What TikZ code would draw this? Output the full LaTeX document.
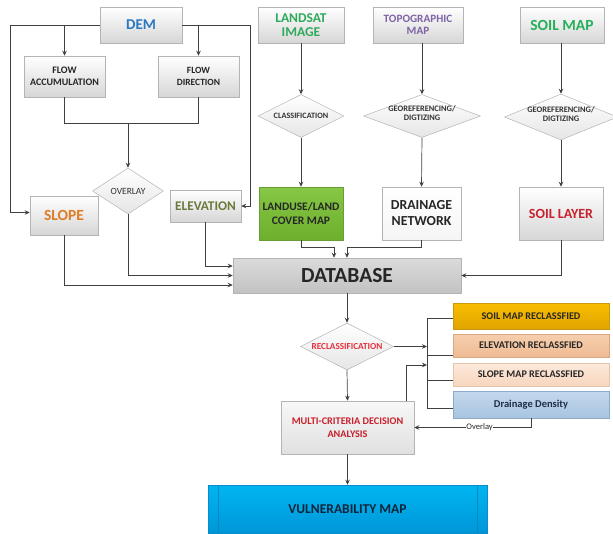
\documentclass[tikz,border=0pt]{standalone}
\usepackage{fontspec}
\setmainfont{Carlito}
\usetikzlibrary{shapes.geometric,arrows.meta,shadows}
\definecolor{linec}{HTML}{404040}
\definecolor{boxb}{HTML}{B4B4B4}
\definecolor{demc}{HTML}{2A78C2}
\definecolor{landc}{HTML}{2EAA5C}
\definecolor{topoc}{HTML}{7E63A6}
\definecolor{soilc}{HTML}{26B05A}
\definecolor{slopec}{HTML}{E07C24}
\definecolor{elevc}{HTML}{6A7A3C}
\definecolor{redc}{HTML}{C8202C}
\definecolor{reclc}{HTML}{E8303C}
\definecolor{navyc}{HTML}{10243A}
\definecolor{lutop}{HTML}{86C745}
\definecolor{lubot}{HTML}{6DB02E}
\definecolor{lubd}{HTML}{6A9E35}
\definecolor{smtop}{HTML}{F9BE00}
\definecolor{smbot}{HTML}{E0A400}
\definecolor{smbd}{HTML}{C89A10}
\definecolor{ertop}{HTML}{F6CFAE}
\definecolor{erbot}{HTML}{EEBB93}
\definecolor{erbd}{HTML}{D8A882}
\definecolor{srtop}{HTML}{FDE9DA}
\definecolor{srbot}{HTML}{F7D6BE}
\definecolor{srbd}{HTML}{E3C4AC}
\definecolor{ddtop}{HTML}{C3D8EC}
\definecolor{ddbot}{HTML}{A8C4E0}
\definecolor{ddbd}{HTML}{8EAACB}
\definecolor{ddtx}{HTML}{1F2F45}
\definecolor{vutop}{HTML}{00B6F0}
\definecolor{vubot}{HTML}{0096D8}
\definecolor{vubd}{HTML}{0A8CC8}
\definecolor{vuln}{HTML}{0A86C0}
\tikzset{
  gbox/.style={rectangle, draw=boxb, line width=0.5pt, top color=white, bottom color=black!16,
     align=center, inner sep=1pt, font=\bfseries, text=black!85,
     drop shadow={opacity=0.2, shadow xshift=1.2pt, shadow yshift=-1.2pt}},
  dia/.style={diamond, draw=boxb, line width=0.5pt, top color=white, bottom color=black!10,
     inner sep=0pt},
  dtext/.style={align=center, inner sep=0pt, text=black!80},
  arr/.style={draw=linec, line width=0.7pt, -{Stealth[length=5pt,width=4.5pt]}},
  ln/.style={draw=linec, line width=0.7pt},
  rbox/.style={rectangle, draw=boxb, line width=0.5pt, minimum width=156pt, align=center,
     font=\bfseries\fontsize{10.2}{12}\selectfont, text=black!85,
     drop shadow={opacity=0.2, shadow xshift=1.2pt, shadow yshift=-1.2pt}},
}
\begin{document}
\begin{tikzpicture}[x=1pt,y=1pt]
\useasboundingbox (0,0) rectangle (613,-533);
% top row
\node[gbox, minimum width=82pt, minimum height=36pt, text=demc, font=\bfseries\fontsize{15}{17}\selectfont] (dem) at (141,-25) {DEM};
\node[gbox, minimum width=86pt, minimum height=36pt, text=landc, font=\bfseries\fontsize{13.5}{14}\selectfont] (land) at (301,-25) {LANDSAT\\IMAGE};
\node[gbox, minimum width=90pt, minimum height=36pt, text=topoc, font=\bfseries\fontsize{11.2}{12.5}\selectfont] (topo) at (418,-25) {TOPOGRAPHIC\\MAP};
\node[gbox, minimum width=84pt, minimum height=36pt, text=soilc, font=\bfseries\fontsize{15.5}{17}\selectfont] (soil) at (562,-25) {SOIL MAP};
% flow boxes
\node[gbox, minimum width=81pt, minimum height=41pt, font=\bfseries\fontsize{10}{12.5}\selectfont] (facc) at (64.5,-76.5) {FLOW\\ACCUMULATION};
\node[gbox, minimum width=81pt, minimum height=41pt, font=\bfseries\fontsize{9.5}{12.5}\selectfont] (fdir) at (198.5,-76.5) {FLOW\\DIRECTION};
% diamonds
\node[dia, minimum width=71pt, minimum height=46pt] (ovl) at (128,-191) {};
\node[dtext, font=\fontsize{9.5}{10}\selectfont] (ovlt) at (ovl) {OVERLAY};
\node[dia, minimum width=86pt, minimum height=43pt] (cls) at (301,-116) {};
\node[dtext, font=\bfseries\fontsize{8.2}{9}\selectfont] (clst) at (cls) {CLASSIFICATION};
\node[dia, minimum width=117pt, minimum height=43pt] (geo1) at (422,-116) {};
\node[dtext, font=\bfseries\fontsize{8.4}{9.5}\selectfont] (geo1t) at ([yshift=3pt]geo1) {GEOREFERENCING/\\DIGTIZING};
\node[dia, minimum width=113pt, minimum height=46pt] (geo2) at (561,-117) {};
\node[dtext, font=\bfseries\fontsize{8.4}{9.5}\selectfont] (geo2t) at ([yshift=3pt]geo2) {GEOREFERENCING/\\DIGTIZING};
% second row
\node[gbox, minimum width=68pt, minimum height=39pt, text=slopec, font=\bfseries\fontsize{15.5}{17}\selectfont] (slope) at (64,-215.5) {SLOPE};
\node[gbox, minimum width=71pt, minimum height=32pt, text=elevc, font=\bfseries\fontsize{13.3}{15}\selectfont] (elev) at (205.5,-206) {ELEVATION};
\node[gbox, minimum width=84pt, minimum height=53pt, top color=lutop, bottom color=lubot, draw=lubd, font=\bfseries\fontsize{11.5}{14}\selectfont, text=black!85] (lu) at (301,-213.5) {LANDUSE/LAND\\COVER MAP};
\node[gbox, minimum width=79pt, minimum height=53pt, top color=white, bottom color=black!4, font=\bfseries\fontsize{13.8}{16}\selectfont, text=black!85] (dn) at (421.5,-213.5) {DRAINAGE\\NETWORK};
\node[gbox, minimum width=84pt, minimum height=53pt, text=redc, font=\bfseries\fontsize{14}{16}\selectfont] (sl) at (561,-213.5) {SOIL LAYER};
% database
\node[gbox, minimum width=228pt, minimum height=35pt, top color=black!14, bottom color=black!24, font=\bfseries\fontsize{21.5}{23}\selectfont, text=black!85] (db) at (347,-275.5) {DATABASE};
% reclassification
\node[dia, minimum width=93pt, minimum height=47pt] (rec) at (347,-346.5) {};
\node[dtext, font=\bfseries\fontsize{9.2}{10}\selectfont, text=reclc] (rect) at (rec) {RECLASSIFICATION};
% reclassified boxes
\node[rbox, minimum height=26pt, top color=smtop, bottom color=smbot, draw=smbd] (smr) at (531,-316) {SOIL MAP RECLASSFIED};
\node[rbox, minimum height=23pt, top color=ertop, bottom color=erbot, draw=erbd] (er) at (531,-345.5) {ELEVATION RECLASSFIED};
\node[rbox, minimum height=23pt, top color=srtop, bottom color=srbot, draw=srbd] (sr) at (531,-374.5) {SLOPE MAP RECLASSFIED};
\node[rbox, minimum height=27pt, top color=ddtop, bottom color=ddbot, draw=ddbd, font=\bfseries\fontsize{10.5}{12}\selectfont, text=ddtx] (dd) at (531,-404.5) {Drainage Density};
% MCDA
\node[gbox, minimum width=133pt, minimum height=53pt, top color=black!3, bottom color=black!12, text=redc, font=\bfseries\fontsize{10.2}{13.5}\selectfont] (mcda) at (347.5,-427.5) {MULTI-CRITERIA DECISION\\ANALYSIS};
% vulnerability
\node[rectangle, draw=vubd, line width=0.5pt, top color=vutop, bottom color=vubot, minimum width=279pt, minimum height=48pt, font=\bfseries\fontsize{13.5}{15}\selectfont, text=navyc] (vul) at (347.5,-509) {VULNERABILITY MAP};
\draw[draw=vuln, line width=0.6pt] ([xshift=11pt]vul.north west) -- ([xshift=11pt]vul.south west);
\draw[draw=vuln, line width=0.6pt] ([xshift=-10pt]vul.north east) -- ([xshift=-10pt]vul.south east);
% coordinates
\coordinate (lx) at (10,-25);
\coordinate (rx) at (250,-25);
\coordinate (j1) at (128,-123);
\coordinate (bt) at (427,-318);
\coordinate (bb) at (427,-408);
\coordinate (mk) at (406,-365);
% DEM connectors
\draw[arr] (dem.west) -- (lx) |- ([yshift=3pt]slope.west);
\draw[arr] (dem.east) -- (rx) |- (elev.east);
\draw[arr] (dem.west -| facc.north) -- (facc.north);
\draw[arr] (dem.east -| fdir.north) -- (fdir.north);
\draw[ln] (facc.south) -- (facc.south |- j1) -- (fdir.south |- j1) -- (fdir.south);
\draw[arr] (j1) -- (ovl.north);
% to database
\draw[arr] (slope.south) |- ([yshift=-9.5pt]db.west);
\draw[arr] (ovl.south) |- (db.west);
\draw[arr] (elev.south) |- ([yshift=9.5pt]db.west);
\draw[arr] (lu.south) -- ++(0,-7) -| ([xshift=-13pt]db.north);
\draw[arr] (dn.south) -- ++(0,-7) -| (db.north);
\draw[arr] (sl.south) |- (db.east);
% middle column
\draw[arr] (land.south) -- (cls.north);
\draw[arr] (cls.south) -- (lu.north);
\draw[arr] (topo.south -| geo1.north) -- (geo1.north);
\draw[arr] (geo1.south) -- (dn.north);
\draw[arr] (soil.south -| geo2.north) -- (geo2.north);
\draw[arr] (geo2.south) -- (geo2.south |- sl.north);
% reclassification
\draw[arr] (db.south) -- (rec.north);
\draw[arr] (rec.east) -- (rec.east -| bt);
\draw[ln] (bt) -- (bb);
\draw[ln] (bt) -- (bt -| smr.west);
\draw[ln] ([yshift=1.5pt]bt |- er.south) -- ([yshift=1.5pt]er.south west);
\draw[ln] ([yshift=-6pt]bt |- sr.west) -- ([yshift=-6pt]sr.west);
\draw[ln] (bb) -- (bb -| dd.west);
\draw[arr] (mcda.north -| mk) -- (mk) -- (mk -| bt);
\draw[arr] (rec.south) -- (mcda.north);
\draw[arr] (dd.south) |- node[pos=0.72, fill=white, inner sep=0.5pt, font=\fontsize{8.5}{10}\selectfont, text=black!85] {Overlay} (mcda.east);
\draw[arr] (mcda.south) -- (vul.north);
\end{tikzpicture}
\end{document}
